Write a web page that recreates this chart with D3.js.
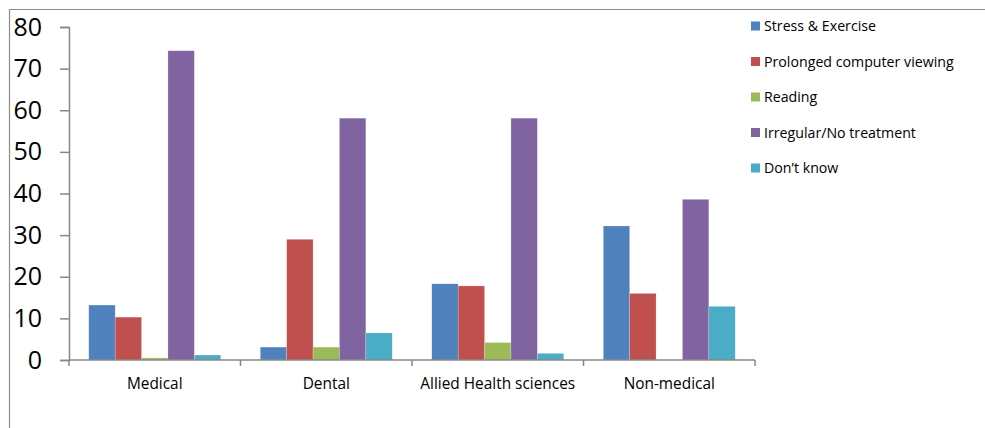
<!DOCTYPE html>
<html>
<head>
<meta charset="UTF-8" />
<title>Causes</title>
<script src="https://cdn.jsdelivr.net/npm/d3@7"></script>
<style>
  body { margin: 0; background: #fff; }
  svg { display: block; font-family: "Open Sans", "Liberation Sans", sans-serif; }
  .axis path, .axis line { stroke: #868686; stroke-width: 1.5; }
</style>
</head>
<body>
<div id="chart"></div>
<script>
const categories = ['Medical', 'Dental', 'Allied Health sciences', 'Non-medical'];
const seriesNames = ['Stress & Exercise', 'Prolonged computer viewing', 'Reading', 'Irregular/No treatment', 'Don\u2019t know'];
const colors = ['#4F81BD', '#C0504D', '#9BBB59', '#8064A2', '#4BACC6'];
const stressExercise = [13.2, 3.1, 18.3, 32.2];
const computerViewing = [10.3, 29.0, 17.8, 16.0];
const reading = [0.5, 3.1, 4.2, 0];
const irregularTreatment = [74.3, 58.1, 58.1, 38.6];
const dontKnow = [1.2, 6.5, 1.6, 12.9];
const yTicks = [0, 10, 20, 30, 40, 50, 60, 70, 80];

const allSeries = [stressExercise, computerViewing, reading, irregularTreatment, dontKnow];

const w = 985, h = 428;
const plotLeft = 69, plotRight = 755, plotTop = 27, plotBottom = 360;

const svg = d3.select('#chart').append('svg')
    .attr('width', w)
    .attr('height', h);

// outer frame
svg.append('path')
    .attr('d', `M9.5,${h} V9.5 H${w}`)
    .attr('fill', 'none')
    .attr('stroke', '#8c8c8c')
    .attr('stroke-width', 1.2);

const x0 = d3.scaleBand().domain(categories).range([plotLeft, plotRight]).padding(0);
const x1 = d3.scaleBand().domain(d3.range(seriesNames.length))
    .range([0, x0.bandwidth()]).paddingInner(0).paddingOuter(0.75);
const y = d3.scaleLinear().domain([0, 80]).range([plotBottom, plotTop]);

// bars
categories.forEach((c, ci) => {
    svg.append('g')
        .selectAll('rect')
        .data(allSeries.map((s, si) => ({ si, v: s[ci] })))
        .enter()
        .append('rect')
        .attr('x', d => x0(c) + x1(d.si))
        .attr('y', d => y(d.v))
        .attr('width', x1.bandwidth())
        .attr('height', d => plotBottom - y(d.v))
        .attr('fill', d => colors[d.si])
        .attr('stroke', 'rgba(255,255,255,0.35)')
        .attr('stroke-width', 0.6);
});

// y axis
const yAxis = svg.append('g')
    .attr('class', 'axis')
    .attr('transform', `translate(${plotLeft},0)`)
    .call(d3.axisLeft(y).tickValues(yTicks).tickSizeInner(9).tickSizeOuter(9).tickPadding(18));
yAxis.selectAll('text')
    .style('font-size', '25px')
    .style('font-family', '"Open Sans", "Liberation Sans", sans-serif')
    .attr('fill', '#000');

// x axis with ticks at category boundaries
const xAxis = svg.append('g')
    .attr('class', 'axis')
    .attr('transform', `translate(0,${plotBottom})`);
xAxis.append('path')
    .attr('d', `M${plotLeft},0 H${plotRight}`);
xAxis.selectAll('line')
    .data(categories.map(c => x0(c)).concat([plotRight]))
    .enter()
    .append('line')
    .attr('x1', d => d).attr('x2', d => d)
    .attr('y1', 0).attr('y2', 6);
xAxis.selectAll('text')
    .data(categories)
    .enter()
    .append('text')
    .attr('x', d => x0(d) + x0.bandwidth() / 2)
    .attr('y', 28.5)
    .attr('text-anchor', 'middle')
    .style('font-size', '15.4px')
    .attr('fill', '#000')
    .text(d => d);

// legend
const legend = svg.append('g').attr('transform', 'translate(751,26)');
seriesNames.forEach((name, i) => {
    const g = legend.append('g').attr('transform', `translate(0,${i * 35.5})`);
    g.append('rect')
        .attr('x', 0).attr('y', -4.5)
        .attr('width', 9).attr('height', 9)
        .attr('fill', colors[i]);
    g.append('text')
        .attr('x', 13).attr('y', 5)
        .style('font-size', '14.2px')
        .attr('fill', '#000')
        .text(name);
});
</script>
</body>
</html>
